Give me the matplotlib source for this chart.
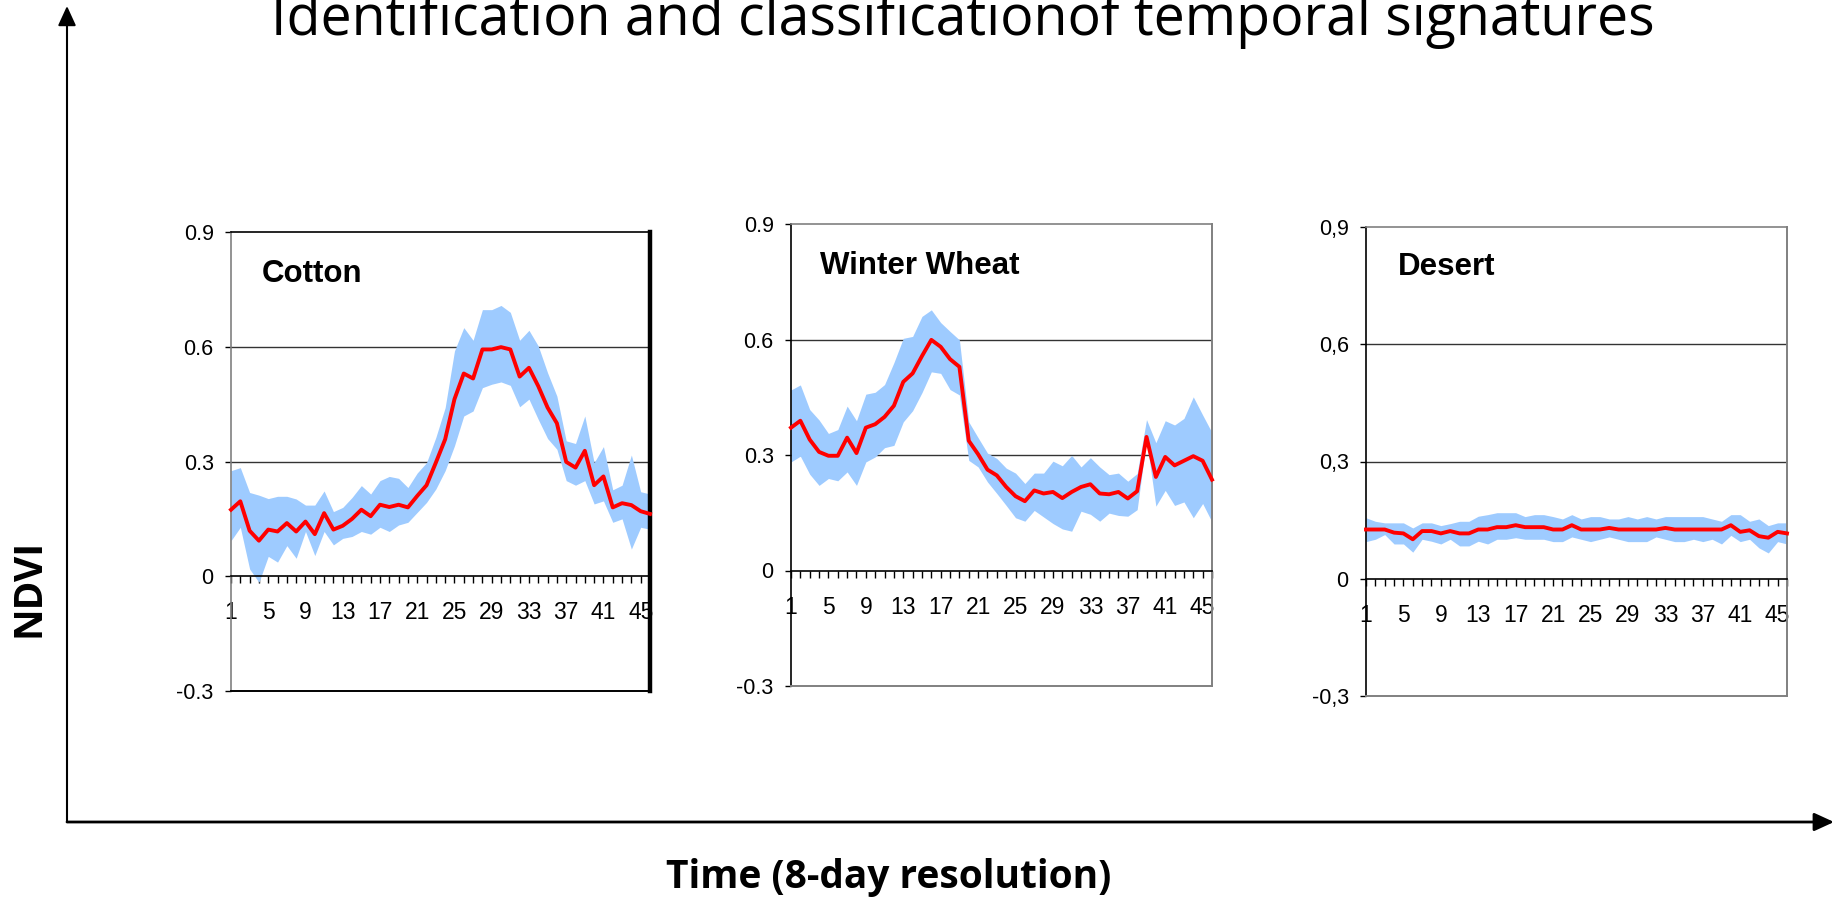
import matplotlib.pyplot as plt
from matplotlib.patches import FancyArrowPatch

W, H = 1841, 901

periods = list(range(1, 47))
x_labels = [str(p) if (p - 1) % 4 == 0 else '' for p in periods]

cotton_mean = [0.174, 0.196, 0.119, 0.093, 0.122, 0.117, 0.139, 0.117, 0.143, 0.110,
               0.165, 0.122, 0.132, 0.150, 0.174, 0.157, 0.187, 0.181, 0.187, 0.180,
               0.210, 0.238, 0.297, 0.358, 0.463, 0.530, 0.517, 0.593, 0.593, 0.599,
               0.593, 0.522, 0.545, 0.497, 0.441, 0.400, 0.299, 0.284, 0.328, 0.238,
               0.261, 0.180, 0.191, 0.186, 0.170, 0.163]
cotton_high = [0.276, 0.284, 0.219, 0.212, 0.203, 0.209, 0.209, 0.202, 0.186, 0.186,
               0.223, 0.169, 0.180, 0.206, 0.237, 0.215, 0.250, 0.261, 0.256, 0.232,
               0.270, 0.297, 0.363, 0.441, 0.589, 0.650, 0.617, 0.697, 0.697, 0.708,
               0.690, 0.617, 0.643, 0.602, 0.532, 0.471, 0.354, 0.347, 0.419, 0.297,
               0.339, 0.226, 0.238, 0.317, 0.221, 0.215]
cotton_low = [0.093, 0.128, 0.019, -0.016, 0.052, 0.037, 0.080, 0.047, 0.117, 0.054,
              0.117, 0.082, 0.099, 0.104, 0.117, 0.110, 0.128, 0.117, 0.134, 0.141,
              0.167, 0.193, 0.228, 0.276, 0.341, 0.419, 0.432, 0.493, 0.502, 0.508,
              0.499, 0.443, 0.463, 0.410, 0.360, 0.332, 0.250, 0.238, 0.250, 0.189,
              0.197, 0.141, 0.150, 0.071, 0.128, 0.123]

wheat_mean = [0.371, 0.389, 0.340, 0.308, 0.298, 0.298, 0.345, 0.305, 0.371, 0.380,
              0.399, 0.428, 0.490, 0.512, 0.557, 0.599, 0.581, 0.549, 0.529, 0.337,
              0.302, 0.262, 0.247, 0.217, 0.193, 0.180, 0.208, 0.200, 0.204, 0.188,
              0.204, 0.217, 0.224, 0.200, 0.198, 0.204, 0.187, 0.206, 0.347, 0.243,
              0.295, 0.273, 0.285, 0.297, 0.285, 0.236]
wheat_high = [0.469, 0.482, 0.418, 0.391, 0.356, 0.366, 0.427, 0.389, 0.458, 0.463,
              0.483, 0.540, 0.603, 0.608, 0.660, 0.677, 0.644, 0.621, 0.599, 0.386,
              0.345, 0.305, 0.291, 0.266, 0.253, 0.226, 0.253, 0.253, 0.284, 0.272,
              0.299, 0.269, 0.293, 0.269, 0.249, 0.253, 0.232, 0.252, 0.392, 0.332,
              0.389, 0.378, 0.395, 0.451, 0.404, 0.358]
wheat_low = [0.282, 0.297, 0.250, 0.221, 0.239, 0.233, 0.256, 0.221, 0.282, 0.295,
             0.319, 0.325, 0.386, 0.415, 0.462, 0.516, 0.512, 0.470, 0.456, 0.286,
             0.269, 0.230, 0.200, 0.169, 0.137, 0.128, 0.156, 0.139, 0.122, 0.108,
             0.102, 0.154, 0.146, 0.128, 0.149, 0.143, 0.141, 0.158, 0.340, 0.167,
             0.208, 0.169, 0.178, 0.137, 0.174, 0.126]

desert_mean = [0.126, 0.126, 0.126, 0.118, 0.116, 0.101, 0.122, 0.122, 0.116, 0.122,
               0.116, 0.116, 0.126, 0.126, 0.132, 0.132, 0.137, 0.132, 0.132, 0.132,
               0.126, 0.126, 0.137, 0.126, 0.126, 0.126, 0.130, 0.126, 0.126, 0.126,
               0.126, 0.126, 0.130, 0.126, 0.126, 0.126, 0.126, 0.126, 0.126, 0.137,
               0.120, 0.124, 0.109, 0.105, 0.120, 0.116]
desert_high = [0.156, 0.147, 0.143, 0.143, 0.143, 0.130, 0.143, 0.143, 0.136, 0.141,
               0.147, 0.147, 0.160, 0.164, 0.169, 0.169, 0.169, 0.159, 0.164, 0.164,
               0.159, 0.153, 0.164, 0.153, 0.159, 0.159, 0.153, 0.153, 0.159, 0.153,
               0.159, 0.153, 0.159, 0.159, 0.159, 0.159, 0.159, 0.153, 0.147, 0.164,
               0.164, 0.147, 0.153, 0.136, 0.143, 0.143]
desert_low = [0.095, 0.101, 0.113, 0.089, 0.089, 0.068, 0.101, 0.096, 0.089, 0.101,
              0.084, 0.084, 0.096, 0.089, 0.101, 0.101, 0.105, 0.101, 0.101, 0.101,
              0.095, 0.095, 0.107, 0.101, 0.095, 0.101, 0.107, 0.101, 0.095, 0.095,
              0.095, 0.107, 0.101, 0.095, 0.095, 0.101, 0.095, 0.101, 0.089, 0.111,
              0.095, 0.101, 0.079, 0.066, 0.095, 0.089]

y_ticks = [-0.3, 0, 0.3, 0.6, 0.9]
y_labels_dot = ['-0.3', '0', '0.3', '0.6', '0.9']
y_labels_comma = ['-0,3', '0', '0,3', '0,6', '0,9']
grid_values = [0.3, 0.6]

BAND = '#9ECBFF'
RED = '#FF0000'


def px(x, y):
    return x / W, 1 - y / H


fig = plt.figure(figsize=(W / 100, H / 100), dpi=100)

# (left, top, right, bottom) in pixels
panels = [
    ('Cotton', cotton_mean, cotton_low, cotton_high, y_labels_dot, (231, 232, 650, 691), (262, 282)),
    ('Winter Wheat', wheat_mean, wheat_low, wheat_high, y_labels_dot, (791, 224, 1212, 686), (820, 274)),
    ('Desert', desert_mean, desert_low, desert_high, y_labels_comma, (1366, 227, 1787, 696), (1398, 275)),
]

for i, (name, mean, low, high, ylabs, (l, t, r, b), (tx, ty)) in enumerate(panels):
    ax = fig.add_axes([l / W, 1 - b / H, (r - l) / W, (b - t) / H])
    ax.set_xlim(1, 46)
    ax.set_ylim(-0.3, 0.9)

    for g in grid_values:
        ax.axhline(g, color='#333333', linewidth=1.0, zorder=1)
    ax.fill_between(periods, low, high, color=BAND, linewidth=0, zorder=2)
    ax.plot(periods, mean, color=RED, linewidth=2.8, zorder=3, clip_on=False)

    # frame
    if i == 0:
        ax.spines['top'].set_color('black')
        ax.spines['right'].set_color('black')
        ax.spines['right'].set_linewidth(3.2)
        ax.spines['left'].set_color('#808080')
        ax.axhline(-0.3, color='black', linewidth=1.4, clip_on=False, zorder=4)
    else:
        ax.spines['top'].set_color('#808080')
        ax.spines['right'].set_color('#808080')
        ax.spines['right'].set_linewidth(1.4)
        ax.spines['left'].set_color('black')
        ax.axhline(-0.3, color='#808080', linewidth=1.4, clip_on=False, zorder=4)
    ax.spines['top'].set_linewidth(1.2)
    ax.spines['left'].set_linewidth(1.2)
    ax.spines['bottom'].set_position(('data', 0))
    ax.spines['bottom'].set_color('black')
    ax.spines['bottom'].set_linewidth(1.2)

    ax.set_yticks(y_ticks)
    ax.set_yticklabels(ylabs, fontsize=15.5, family='Liberation Sans')
    ax.tick_params(axis='y', direction='out', length=4.5, width=1, pad=8)

    ax.set_xticks(periods)
    ax.set_xticklabels(x_labels, fontsize=16.5, family='Liberation Sans')
    ax.tick_params(axis='x', direction='out', length=5, width=1, pad=13)

    fig.text(*px(tx, ty), name, fontsize=22.5, fontweight='bold',
             family='Liberation Sans', ha='left', va='baseline')

# big axis arrows
origin = px(67, 822)
fig.add_artist(FancyArrowPatch(origin, px(67, 6), transform=fig.transFigure,
                               arrowstyle='-|>,head_length=1.2,head_width=0.55',
                               mutation_scale=10, linewidth=1.5, color='black',
                               shrinkA=0, shrinkB=0))
fig.add_artist(FancyArrowPatch(origin, px(1834, 822), transform=fig.transFigure,
                               arrowstyle='-|>,head_length=1.2,head_width=0.55',
                               mutation_scale=10, linewidth=2.0, color='black',
                               shrinkA=0, shrinkB=0))

# title sits partly above the top edge, as in the original slide
fig.text(*px(963, 35), 'Identification and classificationof temporal signatures',
         fontsize=40, family='Open Sans', ha='center', va='baseline')
fig.text(*px(889, 888), 'Time (8-day resolution)', fontsize=28, family='Open Sans',
         fontweight='bold', ha='center', va='baseline')
fig.text(*px(29, 588), 'NDVI', fontsize=28, family='Open Sans', fontweight='bold',
         rotation=90, ha='center', va='center')

fig.savefig('out.png', dpi=100)
